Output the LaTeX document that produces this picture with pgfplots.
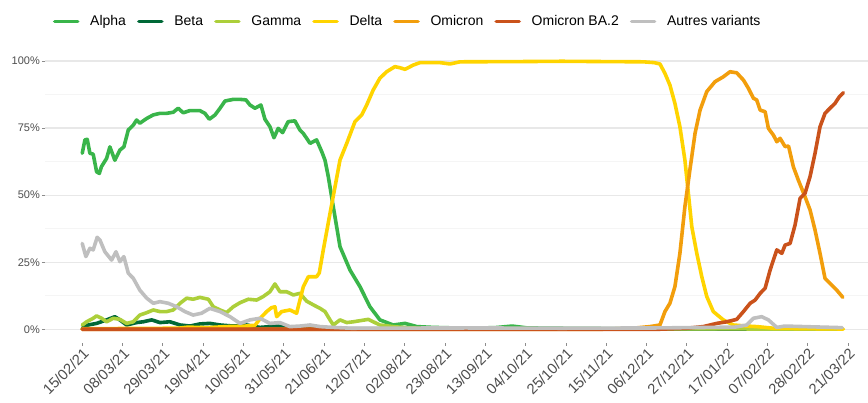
\documentclass[border=0pt]{standalone}
\usepackage{fontspec}
\setmainfont{Liberation Sans}
\usepackage{pgfplots}
\pgfplotsset{compat=1.18}

\definecolor{alpha}{RGB}{57,181,74}
\definecolor{beta}{RGB}{0,104,55}
\definecolor{gamma}{RGB}{172,207,58}
\definecolor{delta}{RGB}{255,212,0}
\definecolor{omicron}{RGB}{242,158,12}
\definecolor{ba2}{RGB}{202,82,27}
\definecolor{autres}{RGB}{191,191,191}
\definecolor{axtext}{RGB}{77,77,77}

\begin{document}
\begin{tikzpicture}
\useasboundingbox (0,0) rectangle (868pt,402pt);
\begin{axis}[
  at={(45pt,59.3pt)}, anchor=south west,
  scale only axis, width=823pt, height=295.1pt,
  xmin=-19.4, xmax=409.4, ymin=-5, ymax=105,
  axis line style={draw=none},
  xtick={0,21,...,399},
  xticklabels={15/02/21,08/03/21,29/03/21,19/04/21,10/05/21,31/05/21,21/06/21,12/07/21,02/08/21,23/08/21,13/09/21,04/10/21,25/10/21,15/11/21,06/12/21,27/12/21,17/01/22,07/02/22,28/02/22,21/03/22},
  ytick={0,25,50,75,100},
  yticklabels={0\%,25\%,50\%,75\%,100\%},
  minor ytick={12.5,37.5,62.5,87.5},
  xtick pos=bottom, ytick pos=left,
  tick align=outside, major tick length=3pt, minor tick length=0pt,
  tick style={color=black!45, line width=0.8pt},
  ymajorgrids, yminorgrids,
  major grid style={color=black!9, line width=1.2pt},
  minor grid style={color=black!4, line width=0.8pt},
  xticklabel style={font=\fontsize{14.8}{14.8}\selectfont, color=axtext, rotate=45, anchor=north east, inner sep=1pt},
  yticklabel style={font=\fontsize{11}{11}\selectfont, color=axtext, inner sep=2pt},
  legend columns=-1,
  legend style={at={(0.0094,1.088)}, anchor=west, draw=none, fill=none,
    inner sep=0pt, font=\fontsize{14}{14}\selectfont,
    nodes={inner sep=0pt},
    /tikz/every odd column/.append style={column sep=10.7pt},
    /tikz/every even column/.append style={column sep=11pt}},
  legend image code/.code={\draw[#1] (0pt,0pt) -- (23pt,0pt);},
  every axis plot/.append style={line width=3.6pt, line join=round, line cap=round},
]
\addplot[color=alpha] coordinates {(0,65.6)(1.4,70.6)(2.6,70.8)(4,65.6)(5.7,65.3)(7.5,58.7)(8.9,58.1)(10,60.6)(12.7,63.7)(14.4,68)(17,63)(19.6,66.8)(21.7,68)(24,74.3)(26.6,76.1)(28.3,78)(30,76.8)(33.6,78.6)(37,79.9)(40.5,80.5)(44,80.5)(47.4,80.9)(50,82.4)(52.6,80.7)(56,81.5)(61.3,81.5)(63.9,80.5)(66.2,78.3)(69.2,79.9)(71.8,82.4)(74.4,85.1)(78.7,85.7)(82.2,85.7)(85.3,85.5)(87.4,83.6)(90,82.4)(93.1,83.6)(95.2,78.3)(97.8,75.5)(99.9,71.4)(102.1,74.9)(104.4,73.3)(107.3,77.4)(110.8,77.7)(113.4,74.3)(115.2,73)(118.7,69.3)(122.1,70.6)(124.8,66.2)(126.5,63)(128.2,56.9)(130.8,45.7)(134.3,30.8)(139.5,22.1)(144.7,15.9)(149.9,8.4)(155.1,3.5)(162,1.6)(168.2,2.2)(174.3,1)(182.7,0.7)(200,0.4)(215,0.6)(224,1.2)(232,0.5)(260,0.3)(300,0.2)(340,0.1)(396,0.1)};
\addlegendentry{Alpha}
\addplot[color=beta] coordinates {(0,0.4)(3.1,1.6)(7.5,2.2)(12.7,3.5)(17,4.7)(19.6,3.5)(23.1,1.6)(28.3,2.5)(31.8,2.8)(36.2,3.5)(40.5,2.5)(45.7,2.8)(51,1.6)(56.1,1.2)(61.3,2)(66.5,2.2)(71.8,1.6)(78.7,1.2)(85.7,1.6)(92.6,0.7)(101.3,1.2)(108.2,0.7)(115,0.4)(140,0.2)(396,0.1)};
\addlegendentry{Beta}
\addplot[color=gamma] coordinates {(0,1.6)(2.3,2.8)(5.7,4.1)(7.5,5)(10.1,4.1)(12.7,2.8)(16.2,4.1)(19.6,3.7)(23.1,2.2)(26.6,2.8)(30,5.3)(33.6,6.2)(37,7.2)(40.5,6.6)(44,6.6)(47.4,7.2)(51,9.7)(54.4,11.6)(57.8,11.2)(61.3,11.9)(65.7,11.2)(68.3,8.4)(71.8,7.2)(75.2,6.2)(78.7,8.4)(82.2,9.9)(86.5,11.2)(90.9,10.9)(94.3,12.2)(97.8,14)(100.4,16.9)(103,14)(106.5,14)(110,12.8)(113.4,13.4)(116.9,10.5)(120.4,9.1)(123.9,7.8)(126.5,6.6)(129.1,3.5)(130.8,1.6)(134.3,3.5)(137.8,2.5)(141.3,2.8)(149,3.7)(155.1,1.6)(162,1)(170,0.5)(200,0.2)(396,0.1)};
\addlegendentry{Gamma}
\addplot[color=delta] coordinates {(0,0.2)(50,0.4)(55,0.8)(65,0.6)(75,1)(85,1.2)(90,1.5)(93.5,4.7)(96.1,6.6)(98.5,8)(100.4,8.4)(101.3,4.7)(103.9,6.6)(108.2,7.2)(111.7,6)(115.2,15.9)(117.8,19.6)(122.1,19.6)(123.5,21)(125.6,29.6)(129.1,43.2)(131.7,53.1)(134.3,63.1)(137.8,69.3)(142.1,77.4)(145.6,79.9)(148.2,83.6)(151.6,89.2)(155.1,93.6)(158.6,96)(162.9,97.9)(165.5,97.5)(168.2,96.9)(172.5,98.5)(176,99.4)(186.4,99.4)(191.6,98.9)(196.8,99.7)(230,99.8)(250,99.9)(270,99.8)(292.3,99.7)(298,99.4)(301,98.9)(303.6,95.4)(306.2,91)(308.8,84.2)(311.4,75.5)(314,63.1)(315.8,50.7)(317.6,38.2)(320.2,28.3)(322.8,19.6)(325.4,12.2)(328.8,6.6)(334,3.5)(339.2,1.6)(346.2,1.2)(351.4,1)(360,0.4)(396.6,0.1)};
\addlegendentry{Delta}
\addplot[color=omicron] coordinates {(0,0)(270,0)(287,0.4)(295.8,1)(301,1.6)(303.6,6.6)(306.2,9.7)(308.8,15.9)(311.4,28.3)(314,45.7)(316.6,59.4)(319.3,73.1)(321.9,81.7)(325.4,88.6)(329.7,92.3)(334,94.1)(337.5,96)(341,95.6)(344.5,92.9)(347.1,89.8)(349.7,86.1)(351.4,85.5)(353.2,81.7)(355.8,81.1)(357.5,74.9)(360.1,72.4)(361.9,69.9)(363.6,71.2)(366.2,68.1)(368,68.3)(370.5,60.6)(373.1,55.6)(376.6,49.4)(379.2,44.5)(381.8,37)(384.4,28.3)(387,19)(389.6,17.1)(393.1,14.6)(396.3,11.9)};
\addlegendentry{Omicron}
\addplot[color=ba2] coordinates {(0,0)(300,0)(315,0.4)(323.6,1)(330.6,2.2)(335.8,2.8)(341,3.7)(344.5,6.6)(348,9.7)(350.6,10.9)(353.2,13.4)(355.8,15.3)(358.4,22.1)(360.1,25.8)(361.9,29.6)(364.5,28.3)(366.2,31.4)(368.8,32)(371.4,38.9)(374,48.8)(376.6,50.7)(379.2,56.9)(381.8,65.6)(384.4,75.5)(387,80.5)(389.6,82.4)(392.2,84.2)(394.5,86.7)(396.6,88.2)};
\addlegendentry{Omicron BA.2}
\addplot[color=autres] coordinates {(0,32)(1.9,27.1)(4,30.2)(5.7,29.6)(7.8,34.3)(9.2,33.3)(11.8,28.9)(15.3,25.8)(17.6,28.9)(19.6,25.2)(21.7,27.1)(24,20.9)(26.6,19)(30,14.6)(33.6,11.6)(37,9.7)(40.5,10.3)(44.8,9.7)(49.2,8.4)(53.5,6.6)(57.8,5.3)(62.2,6)(66.5,7.8)(71.8,6.6)(77,4.7)(82.2,2.2)(87.4,3.5)(92.6,4.1)(97.8,2.2)(103,2.5)(108.2,1)(113.4,1.2)(118.7,1.6)(123.9,1)(130.8,0.7)(140,0.4)(200,0.5)(250,0.4)(300,0.5)(340,0.8)(346.2,1.6)(349.7,4.1)(354,4.7)(357.5,3.5)(361.9,0.7)(366,1.2)(396,0.6)};
\addlegendentry{Autres variants}
\end{axis}
\end{tikzpicture}
\end{document}
